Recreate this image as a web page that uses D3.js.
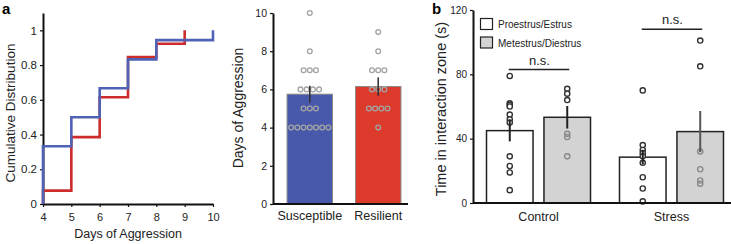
<!DOCTYPE html>
<html>
<head>
<meta charset="utf-8">
<script src="https://cdn.jsdelivr.net/npm/d3@7"></script>
<style>
body { margin: 0; background: #fff; }
svg { display: block; font-family: "Liberation Sans", Arial, sans-serif; }
</style>
</head>
<body>
<div class="svg"></div>
<script>
const w = 731;
const h = 244;

// panel a, left: cumulative distribution
const cdfDaysSus = [4, 5, 6, 7, 8, 10];
const cdfSus = [0.333, 0.5, 0.667, 0.833, 0.944, 1];
const cdfDaysRes = [4, 5, 6, 7, 8, 9];
const cdfRes = [0.077, 0.385, 0.615, 0.846, 0.923, 1];
const cdfXTicks = [4, 5, 6, 7, 8, 9, 10];
const cdfYTicks = [0, 0.2, 0.4, 0.6, 0.8, 1];

// panel a, right: days of aggression
const groups = ["Susceptible", "Resilient"];
const groupMeans = [5.75, 6.15];
const groupSem = [0.44, 0.48];
const susDays = [4, 4, 4, 4, 4, 4, 4, 5, 5, 5, 6, 6, 6, 6, 7, 7, 7, 8, 10];
const resDays = [4, 5, 5, 5, 5, 6, 6, 6, 7, 7, 7, 8, 9];
const daysTicks = [0, 2, 4, 6, 8, 10];

// panel b
const conditions = ["Control", "Stress"];
const phases = ["Proestrus/Estrus", "Metestrus/Diestrus"];
const timeMeans = [[45, 53.3], [28.5, 44.4]];
const timeSem = [[6.7, 7], [4.5, 12.8]];
const timePoints = [
  [[79, 62, 61, 60, 55, 52, 50, 29, 23, 19, 8], [71, 68, 64, 43, 41, 29]],
  [[70, 36, 33, 31, 29, 25, 16, 9, 1], [101, 85, 32, 21, 14, 12]]
];
const nsLevels = [83, 108];
const timeTicks = [0, 40, 80, 120];

const blueBar = "#4858aa", redBar = "#dc3a2b";
const blueLine = "#4f62b6", redLine = "#cc2c2c";

const svg = d3.select(".svg").append("svg")
  .attr("width", w)
  .attr("height", h);

let styleAxis = (g, fs) => {
  g.select(".domain").attr("stroke", "#111").attr("stroke-width", 2);
  g.selectAll(".tick line").attr("stroke", "#111").attr("stroke-width", 1.2);
  g.selectAll(".tick text").attr("fill", "#222").style("font-size", fs + "px")
    .style("font-family", '"Liberation Sans", Arial, sans-serif');
};

let label = (x, y, str, fs, rot) => {
  svg.append("text")
    .attr("transform", "translate(" + x + "," + y + ")" + (rot ? " rotate(-90)" : ""))
    .attr("text-anchor", "middle")
    .style("font-size", fs + "px")
    .attr("fill", "#222")
    .text(str);
};

// ---------- panel a left ----------
const xCdf = d3.scaleLinear().domain([4, 10]).range([43, 213]);
const yCdf = d3.scaleLinear().domain([0, 1.1]).range([204, 13]);

svg.append("g")
  .attr("transform", "translate(0,204)")
  .call(d3.axisBottom(xCdf).tickValues(cdfXTicks).tickFormat(d3.format("d")).tickSize(3).tickPadding(6).tickSizeOuter(0))
  .call(g => styleAxis(g, 11));
svg.append("g")
  .attr("transform", "translate(43,0)")
  .call(d3.axisLeft(yCdf).tickValues(cdfYTicks).tickFormat(d3.format("")).tickSize(3).tickSizeOuter(0))
  .call(g => styleAxis(g, 11.5));

const stepLine = d3.line()
  .x(d => xCdf(d[0]))
  .y(d => yCdf(d[1]))
  .curve(d3.curveStepAfter);

let stepPoints = (days, vals) => [[days[0], 0]].concat(days.map((d, i) => [d, vals[i]]));

svg.append("path")
  .datum(stepPoints(cdfDaysRes, cdfRes))
  .attr("d", stepLine)
  .attr("fill", "none")
  .attr("stroke", redLine)
  .attr("stroke-width", 2.6);
svg.append("path")
  .datum(stepPoints(cdfDaysSus, cdfSus))
  .attr("d", stepLine)
  .attr("fill", "none")
  .attr("stroke", blueLine)
  .attr("stroke-width", 2.6);

label(128, 238, "Days of Aggression", 12.5);
label(15, 113, "Cumulative Distribution", 13.5, true);

// ---------- panel a right ----------
const xGrp = d3.scaleBand().domain(groups).range([280, 408]).paddingInner(0.336).paddingOuter(0.103);
const yDays = d3.scaleLinear().domain([0, 10]).range([204, 13]);

svg.selectAll(".gbar")
  .data(groups)
  .enter()
  .append("rect")
  .attr("class", "gbar")
  .attr("x", d => xGrp(d))
  .attr("y", (d, i) => yDays(groupMeans[i]))
  .attr("width", xGrp.bandwidth())
  .attr("height", (d, i) => yDays(0) - yDays(groupMeans[i]))
  .attr("fill", (d, i) => i === 0 ? blueBar : redBar)
  .attr("stroke", "#8a8a8a")
  .attr("stroke-width", 1);

[susDays, resDays].forEach((arr, gi) => {
  const cx = xGrp(groups[gi]) + xGrp.bandwidth() / 2;
  const counts = d3.rollups(arr, v => v.length, d => d);
  counts.forEach(([val, n]) => {
    for (let k = 0; k < n; k++) {
      svg.append("circle")
        .attr("cx", cx + (k - (n - 1) / 2) * 6.2)
        .attr("cy", yDays(val))
        .attr("r", 2.4)
        .attr("fill", "none")
        .attr("stroke", "#a3a3a3")
        .attr("stroke-width", 1.3);
    }
  });
});

svg.selectAll(".gerr")
  .data(groups)
  .enter()
  .append("line")
  .attr("class", "gerr")
  .attr("x1", d => xGrp(d) + xGrp.bandwidth() / 2)
  .attr("x2", d => xGrp(d) + xGrp.bandwidth() / 2)
  .attr("y1", (d, i) => yDays(groupMeans[i] + groupSem[i]))
  .attr("y2", (d, i) => yDays(groupMeans[i] - groupSem[i]))
  .attr("stroke", "#333")
  .attr("stroke-width", 1.6);

svg.append("g")
  .attr("transform", "translate(273,0)")
  .call(d3.axisLeft(yDays).tickValues(daysTicks).tickSize(3).tickSizeOuter(0))
  .call(g => styleAxis(g, 10.5));
svg.append("line")
  .attr("x1", 273).attr("x2", 408)
  .attr("y1", yDays(0)).attr("y2", yDays(0))
  .attr("stroke", "#111").attr("stroke-width", 2);

groups.forEach(g => label(xGrp(g) + xGrp.bandwidth() / 2, 220, g, 12.5));
label(243, 108, "Days of Aggression", 14, true);

// ---------- panel b ----------
const xCond = d3.scaleBand().domain(conditions).range([476, 734]).paddingInner(0.218).paddingOuter(0.079);
const xPhase = d3.scaleBand().domain(phases).range([0, xCond.bandwidth()]).paddingInner(0.19);
const yTime = d3.scaleLinear().domain([0, 120]).range([203, 10]);
const phaseFill = ["#ffffff", "#d3d3d3"];

conditions.forEach((c, ci) => {
  phases.forEach((p, pi) => {
    const x0 = xCond(c) + xPhase(p);
    const cx = x0 + xPhase.bandwidth() / 2;
    const m = timeMeans[ci][pi];
    svg.append("rect")
      .attr("x", x0)
      .attr("y", yTime(m))
      .attr("width", xPhase.bandwidth())
      .attr("height", yTime(0) - yTime(m))
      .attr("fill", phaseFill[pi])
      .attr("stroke", "#222")
      .attr("stroke-width", 1.5);
    timePoints[ci][pi].forEach(v => {
      const inside = pi === 1 && v < m;
      svg.append("circle")
        .attr("cx", cx)
        .attr("cy", yTime(v))
        .attr("r", 2.6)
        .attr("fill", inside ? "#cfcfcf" : "#fff")
        .attr("fill-opacity", inside ? 0 : 1)
        .attr("stroke", inside ? "#8a8a8a" : "#333")
        .attr("stroke-width", 1.4);
    });
    svg.append("line")
      .attr("x1", cx).attr("x2", cx)
      .attr("y1", yTime(m + timeSem[ci][pi]))
      .attr("y2", yTime(m - timeSem[ci][pi]))
      .attr("stroke", pi === 1 && ci === 1 ? "#555" : "#222")
      .attr("stroke-width", 2);
  });
  // n.s. bracket
  const xa = xCond(c) + xPhase(phases[0]) + xPhase.bandwidth() / 2;
  const xb = xCond(c) + xPhase(phases[1]) + xPhase.bandwidth() / 2;
  svg.append("line")
    .attr("x1", xa - 1).attr("x2", xb + 2)
    .attr("y1", yTime(nsLevels[ci])).attr("y2", yTime(nsLevels[ci]))
    .attr("stroke", "#222").attr("stroke-width", 1.5);
  label((xa + xb) / 2 + 1, yTime(nsLevels[ci]) - 5, "n.s.", 13);
  label(xCond(c) + xCond.bandwidth() / 2, 221, c, 12.5);
});

svg.append("g")
  .attr("transform", "translate(473,0)")
  .call(d3.axisLeft(yTime).tickValues(timeTicks).tickSize(3).tickSizeOuter(0))
  .call(g => styleAxis(g, 10));
svg.append("line")
  .attr("x1", 473).attr("x2", 731)
  .attr("y1", yTime(0)).attr("y2", yTime(0))
  .attr("stroke", "#111").attr("stroke-width", 2);

label(446, 109, "Time in interaction zone (s)", 14.5, true);

// legend
phases.forEach((p, i) => {
  svg.append("rect")
    .attr("x", 480.5)
    .attr("y", 18.5 + i * 18.5)
    .attr("width", 12)
    .attr("height", 11)
    .attr("fill", phaseFill[i])
    .attr("stroke", "#222")
    .attr("stroke-width", 1.2);
  svg.append("text")
    .attr("x", 498)
    .attr("y", 28 + i * 18.5)
    .style("font-size", "10px")
    .attr("fill", "#222")
    .text(p);
});

// panel letters
svg.append("text").attr("x", 2).attr("y", 14).style("font-size", "15px").style("font-weight", "bold").text("a");
svg.append("text").attr("x", 432).attr("y", 14).style("font-size", "15px").style("font-weight", "bold").text("b");
</script>
</body>
</html>
